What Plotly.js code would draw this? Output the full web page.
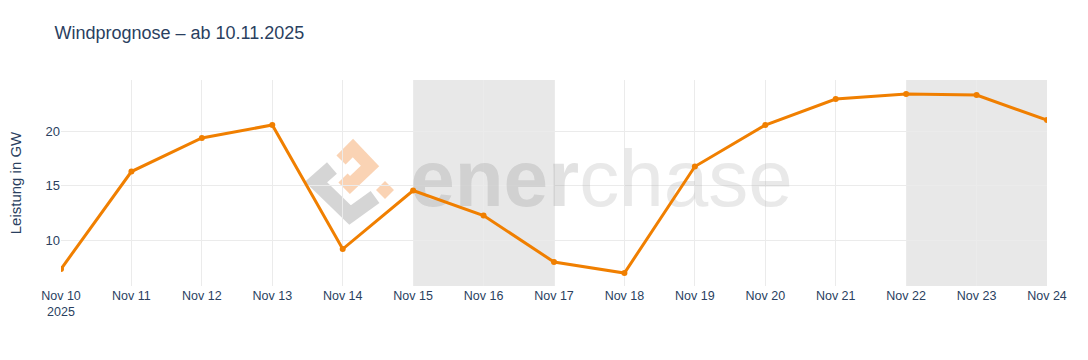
<!DOCTYPE html>
<html>
<head>
<meta charset="utf-8">
<script src="https://cdn.plot.ly/plotly-3.0.1.min.js"></script>
<style>html,body{margin:0;padding:0;background:#fff;}#chart{width:1088px;height:360px;}</style>
</head>
<body>
<div id="chart"></div>
<script>
// ---- data ----
const dates = ['2025-11-10','2025-11-11','2025-11-12','2025-11-13','2025-11-14','2025-11-15','2025-11-16','2025-11-17','2025-11-18','2025-11-19','2025-11-20','2025-11-21','2025-11-22','2025-11-23','2025-11-24'];
const windGW = [7.34, 16.28, 19.36, 20.55, 9.17, 14.54, 12.25, 7.98, 6.97, 16.74, 20.55, 22.94, 23.39, 23.3, 21.0];
const weekendStarts = ['2025-11-15','2025-11-22'];
const weekendEnds = ['2025-11-17','2025-11-24'];
const titleText = 'Windprognose \u2013 ab 10.11.2025';
const yTitle = 'Leistung in GW';

// ---- layout helpers ----
const L = 61, R = 41, T = 80, B = 74, W = 1088, H = 360;
const pw = W - L - R, ph = H - T - B;
function P(x, y) { return ((x - L) / pw).toFixed(4) + ',' + ((T + ph - y) / ph).toFixed(4); }
function path(pts, close) { return 'M' + pts.map(p => P(p[0], p[1])).join(' L') + (close ? ' Z' : ''); }

const shapes = weekendStarts.map((s, i) => ({
  type: 'rect', xref: 'x', yref: 'paper', x0: s, x1: weekendEnds[i], y0: 0, y1: 1,
  fillcolor: 'rgba(0,0,0,0.09)', line: {width: 0}, layer: 'between'
}));
// watermark logo (decorative)
shapes.push({type: 'path', xref: 'paper', yref: 'paper', layer: 'between',
  path: path([[332,168],[316,182],[350,215],[375,197]]),
  line: {color: 'rgba(150,150,150,0.4)', width: 15}, fillcolor: 'rgba(0,0,0,0)'});
shapes.push({type: 'path', xref: 'paper', yref: 'paper', layer: 'between',
  path: path([[341,160],[353,148],[370,166],[350,185],[343,178]]),
  line: {color: 'rgba(240,130,40,0.35)', width: 13}, fillcolor: 'rgba(0,0,0,0)'});
shapes.push({type: 'path', xref: 'paper', yref: 'paper', layer: 'between',
  path: path([[385,181],[394,190],[385,199],[376,190]], true),
  line: {width: 0}, fillcolor: 'rgba(240,130,40,0.35)'});

const traces = [
  {
    x: ['2025-11-17 16:10'], y: [15.0], mode: 'text', type: 'scatter',
    text: ['<b><span style="color:rgba(140,140,140,0.5)">ener</span></b><span style="color:rgba(168,168,168,0.5)">chase</span>'],
    textposition: 'middle center',
    textfont: {family: '"Liberation Sans", Arial, sans-serif', size: 80, color: 'rgba(168,168,168,0.5)'},
    hoverinfo: 'skip', showlegend: false, cliponaxis: false
  },
  {
    x: dates, y: windGW, type: 'scatter', mode: 'lines+markers',
    line: {color: '#f07f00', width: 3}, marker: {color: '#f07f00', size: 6},
    showlegend: false, name: 'Wind'
  }
];

const layout = {
  width: W, height: H,
  margin: {l: L, r: R, t: T, b: B},
  paper_bgcolor: '#fff', plot_bgcolor: '#fff',
  font: {family: '"Liberation Sans", Arial, sans-serif', size: 12, color: '#2a3f5f'},
  title: {text: titleText, font: {size: 18, color: '#2a3f5f'}, x: 0.05, xanchor: 'left', y: 0.91, yanchor: 'middle'},
  xaxis: {
    type: 'date', range: ['2025-11-10', '2025-11-24'], dtick: 86400000, tick0: '2025-11-10',
    showgrid: true, gridcolor: '#ebebeb', zeroline: false, showline: false, ticks: '',
    tickfont: {size: 12.5}
  },
  yaxis: {
    range: [5.78, 24.68], dtick: 5, showgrid: true, gridcolor: '#ebebeb', zeroline: false,
    title: {text: yTitle, font: {size: 15}}, tickfont: {size: 13}
  },
  shapes: shapes
};

Plotly.newPlot('chart', traces, layout, {displayModeBar: false, staticPlot: true});
</script>
</body>
</html>
